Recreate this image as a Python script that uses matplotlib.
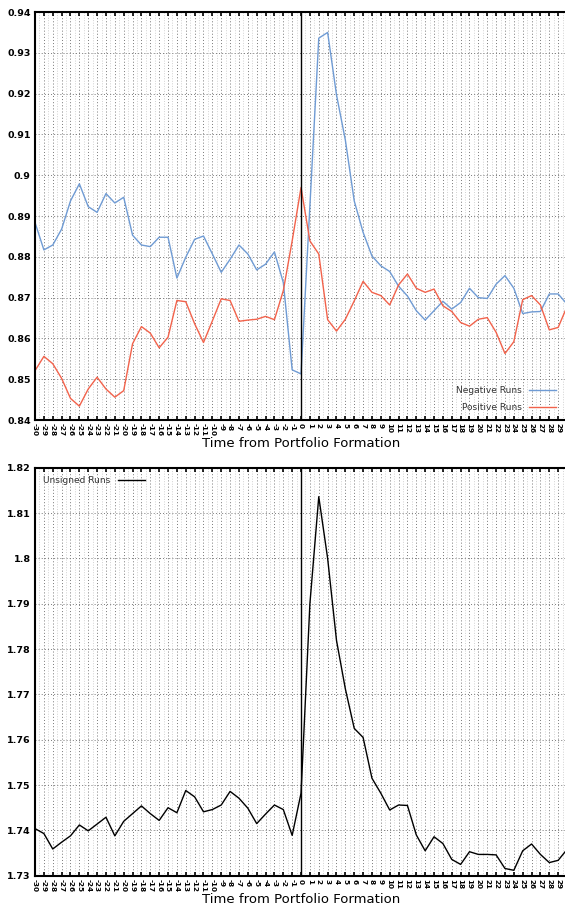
import numpy as np
import matplotlib
matplotlib.use("Agg")
import matplotlib.pyplot as plt
from matplotlib.ticker import MultipleLocator, FuncFormatter

# Event time relative to portfolio formation
periods = list(range(-30, 31))

negative_runs = [
    0.8884, 0.8817, 0.8829, 0.8868, 0.8937, 0.8979, 0.8923, 0.8909, 0.8955, 0.8932,
    0.8946, 0.8853, 0.8829, 0.8825, 0.8848, 0.8848, 0.8748, 0.8799, 0.8843, 0.8851,
    0.8807, 0.8762, 0.8794, 0.8829, 0.8807, 0.8768, 0.8782, 0.8812, 0.8737, 0.8523,
    0.8513,
    0.8925, 0.9336, 0.9350, 0.9197, 0.9086, 0.8937, 0.8860, 0.8802, 0.8778, 0.8764,
    0.8728, 0.8704, 0.8668, 0.8645, 0.8668, 0.8691, 0.8672, 0.8688, 0.8723, 0.8700,
    0.8698, 0.8733, 0.8754, 0.8723, 0.8661, 0.8665, 0.8666, 0.8709, 0.8709, 0.8684,
]

positive_runs = [
    0.8521, 0.8556, 0.8538, 0.8502, 0.8453, 0.8434, 0.8476, 0.8505, 0.8476, 0.8456,
    0.8472, 0.8587, 0.8629, 0.8613, 0.8577, 0.8603, 0.8693, 0.8690, 0.8636, 0.8590,
    0.8643, 0.8697, 0.8693, 0.8642, 0.8645, 0.8647, 0.8654, 0.8646, 0.8717, 0.8839,
    0.8970,
    0.8839, 0.8807, 0.8646, 0.8618, 0.8647, 0.8692, 0.8740, 0.8713, 0.8705, 0.8682,
    0.8731, 0.8758, 0.8723, 0.8713, 0.8721, 0.8680, 0.8666, 0.8639, 0.8630, 0.8647,
    0.8651, 0.8615, 0.8563, 0.8592, 0.8695, 0.8705, 0.8682, 0.8621, 0.8627, 0.8678,
]

unsigned_runs = [
    1.7404, 1.7393, 1.7359, 1.7374, 1.7388, 1.7412, 1.7399, 1.7414, 1.7429, 1.7388,
    1.7420, 1.7437, 1.7454, 1.7437, 1.7422, 1.7450, 1.7439, 1.7488, 1.7474, 1.7441,
    1.7446, 1.7456, 1.7486, 1.7471, 1.7449, 1.7415, 1.7436, 1.7456, 1.7446, 1.7389,
    1.7482,
    1.7900, 1.8136, 1.8000, 1.7819, 1.7712, 1.7625, 1.7605, 1.7515, 1.7482, 1.7445,
    1.7456, 1.7455, 1.7390, 1.7355, 1.7386, 1.7371, 1.7336, 1.7325, 1.7353, 1.7347,
    1.7347, 1.7346, 1.7316, 1.7312, 1.7355, 1.7370, 1.7347, 1.7329, 1.7334, 1.7358,
]

NEG_COLOR = "#6f9bd4"
POS_COLOR = "#f2624b"


def style_axes(ax, ylim):
    ax.set_xlim(-30, 30)
    ax.set_ylim(*ylim)
    ax.xaxis.set_major_locator(MultipleLocator(1))
    ax.xaxis.set_minor_locator(MultipleLocator(0.5))
    ax.yaxis.set_major_locator(MultipleLocator(0.01))
    ax.yaxis.set_major_formatter(FuncFormatter(lambda v, _: "{:g}".format(round(v, 4))))
    ax.set_xticks(periods)
    ax.set_xticklabels([str(p) for p in periods], rotation=-90, fontsize=5.2,
                       fontweight="bold")
    for lbl in ax.get_yticklabels():
        lbl.set_fontweight("bold")
        lbl.set_fontsize(6.8)
    ax.tick_params(axis="x", which="major", direction="in", top=True, length=3,
                   width=1.2, pad=2)
    ax.tick_params(axis="x", which="minor", length=0)
    ax.tick_params(axis="y", direction="in", length=0, pad=3)
    ax.grid(True, which="major", linestyle=(0, (1, 2.2)), color="#777777", linewidth=0.7)
    ax.grid(True, which="minor", axis="x", linestyle=(0, (1, 1.6)), color="#d2d2d2",
            linewidth=0.7)
    ax.set_axisbelow(True)
    for side in ("left", "top", "bottom"):
        ax.spines[side].set_linewidth(1.5)
    ax.spines["right"].set_visible(False)
    ax.axvline(0, color="black", linewidth=1.0)
    ax.set_xlabel("Time from Portfolio Formation", fontsize=9.5, labelpad=1)


fig = plt.figure(figsize=(5.65, 9.06), dpi=100)
ax_top = fig.add_axes([0.062, 0.5364, 0.9416, 0.4503])
ax_bot = fig.add_axes([0.062, 0.0334, 0.9416, 0.4504])

ax_top.plot(periods, negative_runs, color=NEG_COLOR, linewidth=1.0, label="Negative Runs")
ax_top.plot(periods, positive_runs, color=POS_COLOR, linewidth=1.0, label="Positive Runs")
style_axes(ax_top, (0.84, 0.94))
leg = ax_top.legend(loc="lower right", bbox_to_anchor=(0.995, 0.0), frameon=False,
                    markerfirst=False, fontsize=6.5, handlelength=3.0,
                    labelspacing=0.9, handletextpad=0.8)
for t in leg.get_texts():
    t.set_color("#333333")

ax_bot.plot(periods, unsigned_runs, color="black", linewidth=1.0, label="Unsigned Runs")
style_axes(ax_bot, (1.73, 1.82))
leg = ax_bot.legend(loc="upper left", frameon=False, markerfirst=False, fontsize=6.5,
                    handlelength=3.0, handletextpad=0.8)
for t in leg.get_texts():
    t.set_color("#333333")

fig.savefig("out.png", dpi=100)
